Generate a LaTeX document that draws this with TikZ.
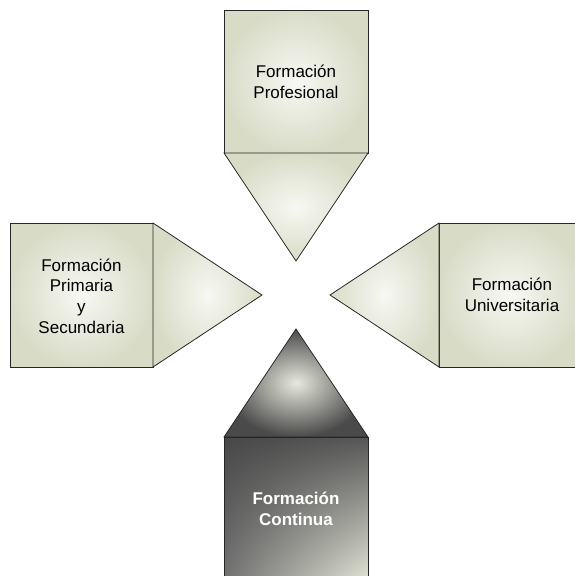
\documentclass[tikz,border=0pt]{standalone}
\usepackage{fontspec}
\setmainfont{Liberation Sans}
\usetikzlibrary{shadings}
\definecolor{sageout}{HTML}{D8DCC7}
\definecolor{sagein}{HTML}{F7F8F3}
\definecolor{darkout}{HTML}{4A4A4A}
\definecolor{darkin}{HTML}{E6E9DC}
\definecolor{boxlight}{HTML}{E2E5D6}
\tikzset{
  armline/.style={draw=black!85, line width=0.8pt, line join=miter},
  sage/.style={inner color=sagein, outer color=sageout},
  darkcone/.style={inner color=darkin, outer color=darkout},
  darkbox/.style={upper left=black!72, upper right=black!66,
                  lower left=black!55, lower right=boxlight},
  armtext/.style={align=center, font=\fontsize{17}{20.7}\selectfont, text=black},
  armtextbold/.style={armtext, font=\fontsize{17}{20.7}\selectfont\bfseries, text=white}
}
\begin{document}
\begin{tikzpicture}[x=1pt,y=-1pt]
\useasboundingbox (0,0) rectangle (575,576);
\clip (0,0) rectangle (575,576);

% upper arm: Formacion Profesional
\shade[sage, armline] (224,10) rectangle (368,153);
\shade[sage, armline] (224,153) -- (368,153) -- (296,261) -- cycle;
\node[armtext] (prof) at (296,82) {Formación\\Profesional};

% left arm: Formacion Primaria y Secundaria
\shade[sage, armline] (10,223) rectangle (153,367);
\shade[sage, armline] (153,223) -- (153,367) -- (262,295) -- cycle;
\node[armtext] (prim) at (81.5,296) {Formación\\Primaria\\y\\Secundaria};

% right arm: Formacion Universitaria
\shade[sage, armline] (439,223) rectangle (583,367);
\shade[sage, armline] (439,223) -- (439,367) -- (330,295) -- cycle;
\node[armtext] (univ) at (512,295) {Formación\\Universitaria};

% lower arm: Formacion Continua
\shade[darkcone, armline] (224,437) -- (368,437) -- (296,329) -- cycle;
\shade[darkbox, armline] (224,437) rectangle (368,581);
\node[armtextbold] (cont) at (296,509) {Formación\\Continua};
\end{tikzpicture}
\end{document}
